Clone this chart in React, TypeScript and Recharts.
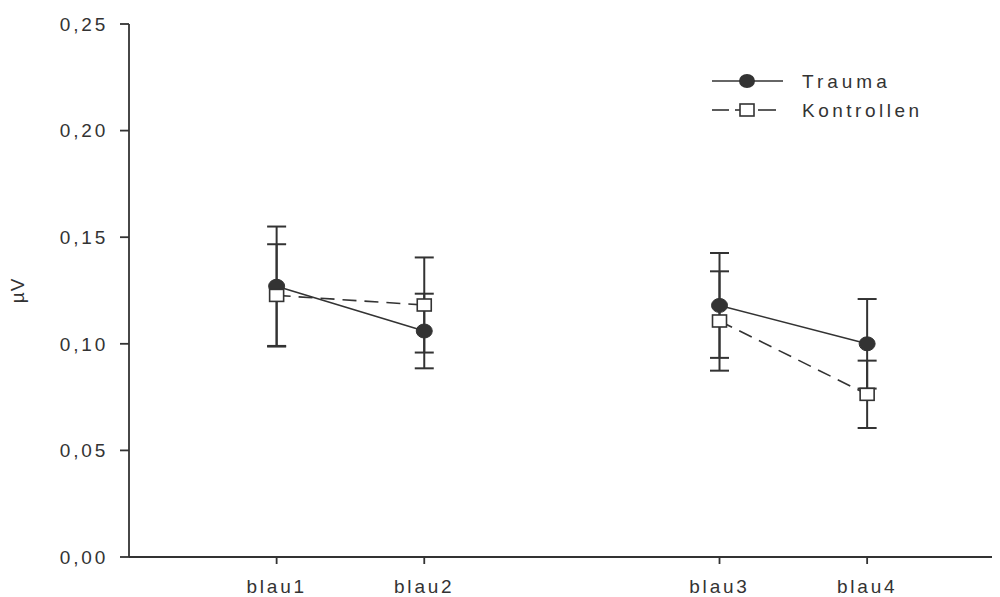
import React from 'react';
import { LineChart, Line, XAxis, YAxis, ErrorBar } from 'recharts';

const categories = ['blau1', 'blau2', 'blau3', 'blau4'];
const positions = [1, 2, 4, 5];
const traumaValues = [0.127, 0.106, 0.118, 0.100];
const traumaErrors = [0.028, 0.0175, 0.0246, 0.021];
const kontrollenValues = [0.1227, 0.1182, 0.1107, 0.0763];
const kontrollenErrors = [0.024, 0.0223, 0.0233, 0.0158];
const yTicks = [0, 0.05, 0.1, 0.15, 0.2, 0.25];
const seriesNames = ['Trauma', 'Kontrollen'];
// position of the break between the two groups (no line drawn across it)
const gapPosition = 3;

const points = positions.map((x, i) => ({
  x,
  trauma: traumaValues[i] as number | null,
  traumaErr: traumaErrors[i] as number | null,
  kontrollen: kontrollenValues[i] as number | null,
  kontrollenErr: kontrollenErrors[i] as number | null,
}));
const data = [
  ...points.slice(0, 2),
  { x: gapPosition, trauma: null, traumaErr: null, kontrollen: null, kontrollenErr: null },
  ...points.slice(2),
];

const INK = '#333333';
const FONT = '"Liberation Sans", Arial, sans-serif';

const TraumaDot = (props: any) => {
  const { cx, cy, index, value } = props;
  if (cx == null || cy == null || value == null) return <g key={`t-${index}`} />;
  return <ellipse key={`t-${index}`} cx={cx} cy={cy} rx={8} ry={7} fill={INK} stroke={INK} strokeWidth={1} />;
};

const KontrollenDot = (props: any) => {
  const { cx, cy, index, value } = props;
  if (cx == null || cy == null || value == null) return <g key={`k-${index}`} />;
  return <rect key={`k-${index}`} x={cx - 7} y={cy - 6} width={14} height={12} fill="#ffffff" stroke={INK} strokeWidth={1.6} />;
};

const LegendBox = () => (
  <div style={{ position: 'absolute', left: 700, top: 58, width: 260, height: 60 }}>
    <svg width={260} height={60} style={{ display: 'block', overflow: 'visible' }}>
      <line x1={4} y1={15} x2={75} y2={15} stroke={INK} strokeWidth={1.6} />
      <ellipse cx={39} cy={15} rx={8} ry={7} fill={INK} />
      <text x={94} y={15} dominantBaseline="central" fontSize={19} letterSpacing={4} fill={INK} fontFamily={FONT}>
        {seriesNames[0]}
      </text>
      <line x1={4} y1={44} x2={21} y2={44} stroke={INK} strokeWidth={1.6} />
      <line x1={27} y1={44} x2={32} y2={44} stroke={INK} strokeWidth={1.6} />
      <rect x={32} y={38} width={14} height={12} fill="#ffffff" stroke={INK} strokeWidth={1.6} />
      <line x1={50} y1={44} x2={68} y2={44} stroke={INK} strokeWidth={1.6} />
      <text x={94} y={44} dominantBaseline="central" fontSize={19} letterSpacing={3.5} fill={INK} fontFamily={FONT}>
        {seriesNames[1]}
      </text>
    </svg>
  </div>
);

const YLabel = (props: any) => {
  const vb = props.viewBox || {};
  const cx = (vb.x || 0) + 9;
  const cy = (vb.y || 0) + (vb.height || 0) / 2;
  return (
    <text
      x={cx}
      y={cy}
      transform={`rotate(-90, ${cx}, ${cy})`}
      textAnchor="middle"
      dominantBaseline="central"
      fontSize={19}
      letterSpacing={1}
      fill={INK}
      fontFamily={FONT}
    >
      µV
    </text>
  );
};

export default function App() {
  return (
    <div style={{ position: 'relative', width: 992, height: 589, overflow: 'hidden', background: '#fff' }}>
      <LineChart width={992} height={589} data={data} margin={{ top: 16, right: 0, bottom: 0, left: 0 }}>
        <XAxis
          dataKey="x"
          type="number"
          domain={[0, 5.9]}
          allowDataOverflow
          ticks={positions}
          tickFormatter={(v: number) => categories[positions.indexOf(v)] ?? ''}
          height={40}
          tickSize={7}
          tickMargin={16}
          stroke={INK}
          strokeWidth={1.8}
          tick={{ fill: INK, fontSize: 19, fontFamily: FONT, letterSpacing: 2.8 }}
          interval={0}
        />
        <YAxis
          type="number"
          domain={[0, 0.25]}
          ticks={yTicks}
          width={121}
          tickSize={9}
          tickMargin={12}
          stroke={INK}
          strokeWidth={1.8}
          tickFormatter={(v: number) => v.toFixed(2).replace('.', ',')}
          tick={{ fill: INK, fontSize: 19, fontFamily: FONT, letterSpacing: 2.8 }}
          interval={0}
          label={<YLabel />}
        />
        <Line
          type="linear"
          dataKey="trauma"
          name={seriesNames[0]}
          stroke={INK}
          strokeWidth={1.6}
          dot={TraumaDot}
          activeDot={false}
          connectNulls={false}
          isAnimationActive={false}
        >
          <ErrorBar dataKey="traumaErr" direction="y" width={9.5} stroke={INK} strokeWidth={2} isAnimationActive={false} />
        </Line>
        <Line
          type="linear"
          dataKey="kontrollen"
          name={seriesNames[1]}
          stroke={INK}
          strokeWidth={1.6}
          strokeDasharray="14 8"
          dot={KontrollenDot}
          activeDot={false}
          connectNulls={false}
          isAnimationActive={false}
        >
          <ErrorBar dataKey="kontrollenErr" direction="y" width={9.5} stroke={INK} strokeWidth={2} isAnimationActive={false} />
        </Line>
      </LineChart>
      <LegendBox />
    </div>
  );
}
